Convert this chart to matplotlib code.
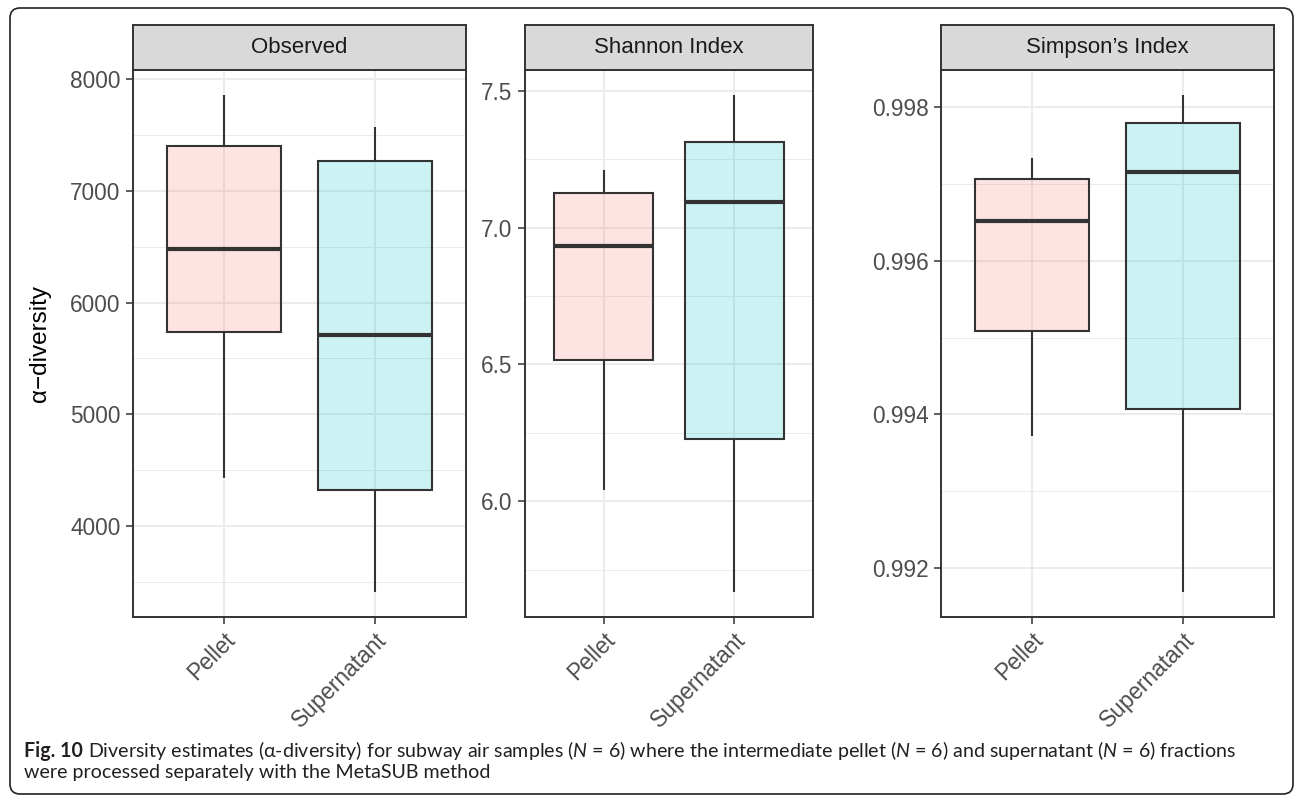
import matplotlib
matplotlib.use("Agg")
import matplotlib.pyplot as plt
from matplotlib.patches import FancyBboxPatch
from matplotlib.ticker import FixedLocator, FuncFormatter

# ---------------- data ----------------
panels = ["Observed", "Shannon Index", "Simpson\u2019s Index"]
groups = ["Pellet", "Supernatant"]

obs_whislo = [4429, 3411]
obs_q1 = [5741, 4321]
obs_med = [6482, 5714]
obs_q3 = [7400, 7268]
obs_whishi = [7857, 7571]

sha_whislo = [6.04, 5.668]
sha_q1 = [6.515, 6.226]
sha_med = [6.931, 7.095]
sha_q3 = [7.128, 7.314]
sha_whishi = [7.212, 7.485]

sim_whislo = [0.993716, 0.99169]
sim_q1 = [0.99509, 0.994077]
sim_med = [0.996516, 0.997148]
sim_q3 = [0.997058, 0.997794]
sim_whishi = [0.997329, 0.998155]

obs_ticks = [4000, 5000, 6000, 7000, 8000]
obs_minor = [3500, 4500, 5500, 6500, 7500]
sha_ticks = [6.0, 6.5, 7.0, 7.5]
sha_minor = [5.75, 6.25, 6.75, 7.25]
sim_ticks = [0.992, 0.994, 0.996, 0.998]
sim_minor = [0.993, 0.995, 0.997]
tick_fmts = ["{:.0f}", "{:.1f}", "{:.3f}"]

ylabel = "\u03b1\u2212diversity"
fill_colors = ["#F8766D", "#00BFC4"]

caption_label = "Fig. 10"
caption_1 = ("Diversity estimates (\u03b1-diversity) for subway air samples "
             "($\\mathit{N}$ = 6) where the intermediate pellet ($\\mathit{N}$ = 6) and supernatant "
             "($\\mathit{N}$ = 6) fractions")
caption_2 = "were processed separately with the MetaSUB method"

# ---------------- style ----------------
CAP_FONT = "Lato"
plt.rcParams["font.family"] = ["Liberation Sans", "DejaVu Sans"]
plt.rcParams["mathtext.fontset"] = "custom"
plt.rcParams["mathtext.rm"] = CAP_FONT
plt.rcParams["mathtext.it"] = CAP_FONT + ":italic"
plt.rcParams["mathtext.bf"] = CAP_FONT + ":bold"

W, H = 1295, 797
fig = plt.figure(figsize=(W / 100, H / 100), dpi=100)

# background axes in pixel coordinates for border + caption
bg = fig.add_axes([0, 0, 1, 1], zorder=-10)
bg.set_xlim(0, W)
bg.set_ylim(H, 0)
bg.axis("off")
bg.add_patch(FancyBboxPatch((10, 8), 1283, 786,
                            boxstyle="round,pad=0,rounding_size=10",
                            fc="white", ec="#222222", lw=1.2))

panel_x = [(133, 466), (525, 813), (941, 1274)]
ax_top, ax_bot = 70, 617
strip_top = 25

summaries = [
    (obs_whislo, obs_q1, obs_med, obs_q3, obs_whishi, obs_ticks, obs_minor),
    (sha_whislo, sha_q1, sha_med, sha_q3, sha_whishi, sha_ticks, sha_minor),
    (sim_whislo, sim_q1, sim_med, sim_q3, sim_whishi, sim_ticks, sim_minor),
]

dark = "#333333"
for i, (name, (x0, x1), summ, fmt) in enumerate(zip(panels, panel_x, summaries, tick_fmts)):
    lo, q1, med, q3, hi, ticks, minor = summ
    ax = fig.add_axes([x0 / W, 1 - ax_bot / H, (x1 - x0) / W, (ax_bot - ax_top) / H])
    stats = [dict(med=med[j], q1=q1[j], q3=q3[j], whislo=lo[j], whishi=hi[j],
                  fliers=[], label=groups[j]) for j in range(len(groups))]
    bp = ax.bxp(stats, positions=[1, 2], widths=0.75, patch_artist=True,
                showcaps=False, showfliers=False,
                boxprops=dict(edgecolor=dark, linewidth=1.5, joinstyle="miter"),
                medianprops=dict(color=dark, linewidth=3.0, solid_capstyle="butt"),
                whiskerprops=dict(color=dark, linewidth=1.5, solid_capstyle="butt"))
    for box, c in zip(bp["boxes"], fill_colors):
        rgb = matplotlib.colors.to_rgb(c)
        box.set_facecolor((*rgb, 0.2))
        box.set_edgecolor(dark)
    vmin, vmax = min(lo), max(hi)
    rng = vmax - vmin
    ax.set_ylim(vmin - 0.05 * rng, vmax + 0.05 * rng)
    ax.set_xlim(0.4, 2.6)
    ax.yaxis.set_major_locator(FixedLocator(ticks))
    ax.yaxis.set_minor_locator(FixedLocator(minor))
    ax.yaxis.set_major_formatter(FuncFormatter(lambda v, p, f=fmt: f.format(v)))
    ax.set_xticks([1, 2])
    ax.set_xticklabels(groups, rotation=45, ha="right", va="top", rotation_mode="anchor")
    ax.set_axisbelow(True)
    ax.grid(which="major", color="#EBEBEB", linewidth=1.4)
    ax.yaxis.grid(which="minor", color="#EBEBEB", linewidth=0.7)
    ax.tick_params(axis="both", which="major", length=5, width=1.1, color=dark,
                   labelsize=16.3, labelcolor="#4D4D4D", pad=4)
    ax.tick_params(axis="x", pad=3)
    ax.tick_params(axis="y", which="minor", length=0)
    for sp in ax.spines.values():
        sp.set_color(dark)
        sp.set_linewidth(1.4)
    # strip
    sax = fig.add_axes([x0 / W, 1 - ax_top / H, (x1 - x0) / W, (ax_top - strip_top) / H])
    sax.set_facecolor("#D9D9D9")
    sax.set_xticks([])
    sax.set_yticks([])
    for sp in sax.spines.values():
        sp.set_color(dark)
        sp.set_linewidth(1.4)
    sax.text(0.5, 0.5, name, transform=sax.transAxes, ha="center", va="center",
             fontsize=16, color="#1A1A1A")

fig.text(40 / W, 1 - 343.5 / H, ylabel, rotation=90, ha="center", va="center",
         fontsize=17.5, color="black")

# caption: bold label + regular text, fitted to the reference line width
cap_kw = dict(family=[CAP_FONT, "DejaVu Sans"], color="#231F20", ha="left", va="baseline")
x_start, x_end = 24, 1238
renderer = fig.canvas.get_renderer()


def layout_caption(fs):
    t0 = bg.text(x_start, 757, caption_label, fontsize=fs, fontweight="bold", **cap_kw)
    w0 = t0.get_window_extent(renderer).width
    gap = 0.28 * fs * 100 / 72
    t1 = bg.text(x_start + w0 + gap, 757, caption_1, fontsize=fs, **cap_kw)
    w1 = t1.get_window_extent(renderer).width
    return t0, t1, w0 + gap + w1


t0, t1, total = layout_caption(11)
fs = 11 * (x_end - x_start) / total
t0.remove()
t1.remove()
t0, t1, total = layout_caption(fs)
bg.text(x_start, 778, caption_2, fontsize=fs, **cap_kw)

fig.savefig("out.png", dpi=100)
